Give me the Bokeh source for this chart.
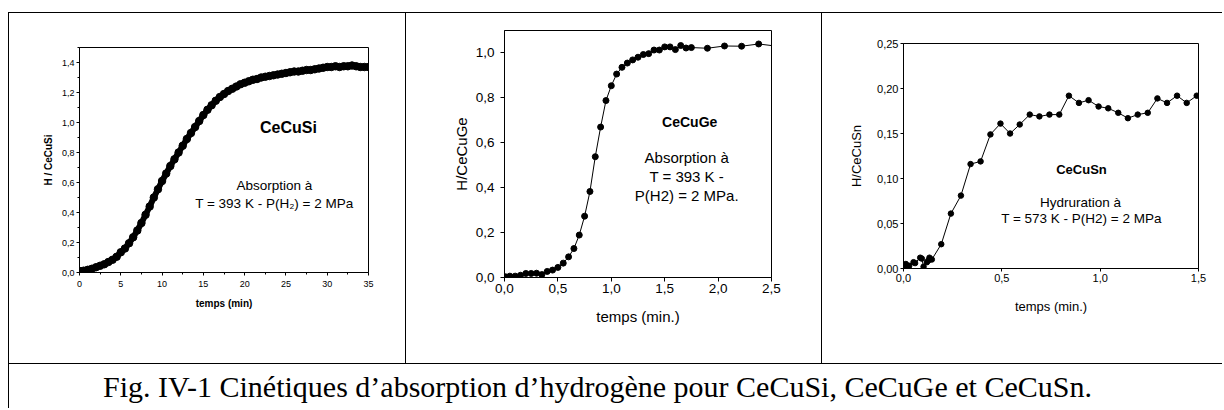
from bokeh.plotting import figure
from bokeh.models import Div, Label, FixedTicker, Range1d, CustomJSTickFormatter
from bokeh.layouts import row, column
from bokeh.embed import file_html
from bokeh.resources import INLINE

# ---------------- data ----------------
# CeCuSi : temps (min) / H per CeCuSi
si_t = [0, 0.5, 1, 1.5, 2, 2.5, 3, 3.5, 4, 4.5, 5, 5.5, 6, 6.5, 7, 7.5, 8, 8.5, 9, 9.5,
        10, 10.5, 11, 11.5, 12, 12.5, 13, 13.5, 14, 14.5, 15, 15.5, 16, 16.5, 17, 17.5,
        18, 18.5, 19, 19.5, 20, 20.5, 21, 21.5, 22, 22.5, 23, 23.5, 24, 24.5, 25, 25.5,
        26, 26.5, 27, 27.5, 28, 28.5, 29, 29.5, 30, 30.5, 31, 31.5, 32, 32.5, 33, 33.5,
        34, 34.5, 35]
si_h = [0.010, 0.012, 0.018, 0.025, 0.035, 0.045, 0.055, 0.070, 0.085, 0.105, 0.135, 0.160,
        0.195, 0.235, 0.280, 0.330, 0.385, 0.440, 0.500, 0.555, 0.610, 0.660, 0.710, 0.755,
        0.800, 0.845, 0.890, 0.930, 0.970, 1.010, 1.050, 1.085, 1.115, 1.145, 1.170, 1.190,
        1.210, 1.225, 1.240, 1.255, 1.265, 1.275, 1.285, 1.290, 1.300, 1.305, 1.310, 1.315,
        1.320, 1.325, 1.330, 1.335, 1.340, 1.340, 1.345, 1.350, 1.350, 1.355, 1.360, 1.365,
        1.370, 1.370, 1.375, 1.370, 1.375, 1.375, 1.380, 1.375, 1.370, 1.370, 1.370]

# CeCuGe : temps (min.) / H per CeCuGe
ge_t = [0.01, 0.05, 0.10, 0.15, 0.20, 0.25, 0.30, 0.35, 0.40, 0.45, 0.50, 0.55, 0.60, 0.65,
        0.70, 0.75, 0.80, 0.85, 0.90, 0.95, 1.00, 1.05, 1.10, 1.15, 1.20, 1.25, 1.30, 1.35,
        1.40, 1.45, 1.50, 1.55, 1.60, 1.65, 1.70, 1.75, 1.90, 2.06, 2.22, 2.38, 2.55]
ge_h = [0.003, 0.006, 0.006, 0.010, 0.018, 0.018, 0.019, 0.013, 0.027, 0.033, 0.045, 0.064,
        0.092, 0.129, 0.189, 0.273, 0.383, 0.538, 0.670, 0.788, 0.854, 0.906, 0.936, 0.955,
        0.969, 0.981, 0.993, 0.997, 1.013, 1.013, 1.027, 1.027, 1.015, 1.033, 1.022, 1.024,
        1.021, 1.031, 1.030, 1.040, 1.030]

# CeCuSn : temps (min.) / H per CeCuSn
sn_t = [0.005, 0.012, 0.029, 0.051, 0.059, 0.085, 0.093, 0.102, 0.119, 0.127, 0.132, 0.144,
        0.192, 0.241, 0.292, 0.341, 0.392, 0.442, 0.493, 0.542, 0.591, 0.642, 0.691, 0.742,
        0.792, 0.841, 0.892, 0.941, 0.992, 1.041, 1.092, 1.141, 1.191, 1.242, 1.291, 1.340,
        1.391, 1.440, 1.491]
sn_h = [0.001, 0.005, 0.003, 0.007, 0.006, 0.012, 0.011, 0.002, 0.007, 0.009, 0.012, 0.010,
        0.027, 0.061, 0.081, 0.116, 0.119, 0.149, 0.161, 0.150, 0.160, 0.171, 0.169, 0.171,
        0.171, 0.192, 0.184, 0.187, 0.180, 0.178, 0.173, 0.167, 0.171, 0.173, 0.189, 0.184,
        0.192, 0.184, 0.192]

# ticks and tick labels
si_xticks = [0, 5, 10, 15, 20, 25, 30, 35]
si_xlabels = ["0", "5", "10", "15", "20", "25", "30", "35"]
si_xminor = [2.5, 7.5, 12.5, 17.5, 22.5, 27.5, 32.5]
si_yticks = [0.0, 0.2, 0.4, 0.6, 0.8, 1.0, 1.2, 1.4]
si_ylabels = ["0,0", "0,2", "0,4", "0,6", "0,8", "1,0", "1,2", "1,4"]
si_yminor = [0.1, 0.3, 0.5, 0.7, 0.9, 1.1, 1.3, 1.5]

ge_xticks = [0.0, 0.5, 1.0, 1.5, 2.0, 2.5]
ge_xlabels = ["0,0", "0,5", "1,0", "1,5", "2,0", "2,5"]
ge_yticks = [0.0, 0.2, 0.4, 0.6, 0.8, 1.0]
ge_ylabels = ["0,0", "0,2", "0,4", "0,6", "0,8", "1,0"]

sn_xticks = [0.0, 0.5, 1.0, 1.5]
sn_xlabels = ["0,0", "0,5", "1,0", "1,5"]
sn_yticks = [0.00, 0.05, 0.10, 0.15, 0.20, 0.25]
sn_ylabels = ["0,00", "0,05", "0,10", "0,15", "0,20", "0,25"]

caption = "Fig. IV-1 Cinétiques d\u2019absorption d\u2019hydrogène pour CeCuSi, CeCuGe et CeCuSn."

FONT = "Liberation Sans"
BTOP, BBOT = 17, 86   # common top / bottom borders of the three panels

FMT_CODE = """
for (let i = 0; i < tk.length; i++) {
    if (Math.abs(tk[i] - tick) < 1e-6) { return lb[i]; }
}
return "";
"""


def fmt(ticks, labels):
    return CustomJSTickFormatter(args=dict(tk=ticks, lb=labels), code=FMT_CODE)


def style_axis(ax, tick_size, label_size, bold, tick_out, standoff, label_standoff):
    ax.axis_line_color = "black"
    ax.axis_line_width = 1
    ax.major_tick_line_color = "black"
    ax.minor_tick_line_color = "black"
    ax.major_tick_in = 0
    ax.major_tick_out = tick_out
    ax.minor_tick_in = 0
    ax.minor_tick_out = 2
    ax.major_label_text_font = FONT
    ax.major_label_text_font_size = f"{tick_size}px"
    ax.major_label_text_color = "black"
    ax.major_label_standoff = standoff
    ax.axis_label_text_font = FONT
    ax.axis_label_text_font_size = f"{label_size}px"
    ax.axis_label_text_font_style = "bold" if bold else "normal"
    ax.axis_label_text_color = "black"
    ax.axis_label_standoff = label_standoff


def base_fig(w, h, xr, yr, left, right):
    p = figure(width=w, height=h, x_range=Range1d(*xr), y_range=Range1d(*yr),
               output_backend="svg", toolbar_location=None,
               min_border_left=left, min_border_right=right,
               min_border_top=BTOP, min_border_bottom=BBOT)
    p.grid.visible = False
    p.outline_line_color = "black"
    p.outline_line_width = 1
    p.background_fill_color = "white"
    p.border_fill_color = "white"
    return p


def add_label(p, x, y, text, size, bold=False):
    p.add_layout(Label(x=x, y=y, text=text, text_font=FONT, text_font_size=f"{size}px",
                       text_font_style="bold" if bold else "normal",
                       text_align="center", text_baseline="middle", text_color="black"))


def gap(w, h):
    return Div(width=w, height=h, margin=0)


def bar(w, h):
    return Div(width=w, height=h, margin=0, styles={"background-color": "black"})


# ---------------- panel 1 : CeCuSi ----------------
p1 = base_fig(396, 328, (0, 35), (0, 1.5), 70, 37)
p1.xaxis.ticker = FixedTicker(ticks=si_xticks, minor_ticks=si_xminor)
p1.yaxis.ticker = FixedTicker(ticks=si_yticks, minor_ticks=si_yminor)
p1.xaxis.formatter = fmt(si_xticks, si_xlabels)
p1.yaxis.formatter = fmt(si_yticks, si_ylabels)
p1.xaxis.axis_label = "temps (min)"
p1.yaxis.axis_label = "H / CeCuSi"
style_axis(p1.xaxis[0], 9, 10, True, 3, 5, 8)
style_axis(p1.yaxis[0], 9, 10, True, 3, 2, 5)
p1.line(si_t, si_h, line_color="black", line_width=6)
p1.scatter(si_t, si_h, size=7.5, color="black")
add_label(p1, 25.3, 0.97, "CeCuSi", 16, bold=True)
add_label(p1, 23.6, 0.58, "Absorption à", 13.5)
add_label(p1, 23.6, 0.46, "T = 393 K - P(H\u2082) = 2 MPa", 13.5)
c1 = column(gap(396, 17), p1, gap(396, 5), spacing=0)

# ---------------- panel 2 : CeCuGe ----------------
p2 = base_fig(415, 350, (0, 2.5), (0, 1.1), 98, 50)
p2.xaxis.ticker = FixedTicker(ticks=ge_xticks)
p2.yaxis.ticker = FixedTicker(ticks=ge_yticks)
p2.xaxis.formatter = fmt(ge_xticks, ge_xlabels)
p2.yaxis.formatter = fmt(ge_yticks, ge_ylabels)
p2.xaxis.axis_label = "temps (min.)"
p2.yaxis.axis_label = "H/CeCuGe"
style_axis(p2.xaxis[0], 13.5, 15, False, 4, 2, 12)
style_axis(p2.yaxis[0], 13.5, 15, False, 4, 6, 3)
p2.line(ge_t, ge_h, line_color="black", line_width=1)
p2.scatter(ge_t, ge_h, size=6, color="black")
add_label(p2, 1.734, 0.694, "CeCuGe", 14, bold=True)
add_label(p2, 1.706, 0.534, "Absorption à", 15)
add_label(p2, 1.706, 0.449, "T = 393 K -", 15)
add_label(p2, 1.706, 0.364, "P(H2) = 2 MPa.", 15)
c2 = column(p2, spacing=0)

# ---------------- panel 3 : CeCuSn ----------------
p3 = base_fig(400, 328, (0, 1.5), (0, 0.25), 81, 24)
p3.xaxis.ticker = FixedTicker(ticks=sn_xticks)
p3.yaxis.ticker = FixedTicker(ticks=sn_yticks)
p3.xaxis.formatter = fmt(sn_xticks, sn_xlabels)
p3.yaxis.formatter = fmt(sn_yticks, sn_ylabels)
p3.xaxis.axis_label = "temps (min.)"
p3.yaxis.axis_label = "H/CeCuSn"
style_axis(p3.xaxis[0], 11, 13, False, 3, 2, 14)
style_axis(p3.yaxis[0], 11, 13, False, 3, 2, 10)
p3.line(sn_t, sn_h, line_color="black", line_width=1)
p3.scatter(sn_t, sn_h, size=5.5, color="black")
add_label(p3, 0.905, 0.1097, "CeCuSn", 13, bold=True)
add_label(p3, 0.90, 0.073, "Hydruration à", 13.5)
add_label(p3, 0.905, 0.0552, "T = 573 K - P(H2) = 2 MPa", 13.5)
c3 = column(gap(400, 13), p3, gap(400, 9), spacing=0)

# ---------------- caption ----------------
CW, CH = 1213, 44
pc = figure(width=CW, height=CH, x_range=Range1d(0, CW), y_range=Range1d(0, CH),
            output_backend="svg", toolbar_location=None,
            min_border_left=0, min_border_right=0, min_border_top=0, min_border_bottom=0)
pc.axis.visible = False
pc.grid.visible = False
pc.outline_line_color = None
pc.background_fill_color = "white"
pc.border_fill_color = "white"
pc.add_layout(Label(x=588, y=22, text=caption, text_font="Liberation Serif",
                    text_font_size="30px", text_align="center", text_baseline="middle",
                    text_color="black"))

inner = column(
    bar(1214, 1),
    row(bar(1, 350), c1, bar(1, 350), c2, bar(1, 350), c3, spacing=0),
    bar(1214, 1),
    row(bar(1, CH), pc, spacing=0),
    spacing=0,
)
layout = column(
    gap(1222, 12),
    row(gap(8, 396), inner, spacing=0),
    spacing=0,
)

open("out.html", "w").write(file_html(layout, INLINE))
